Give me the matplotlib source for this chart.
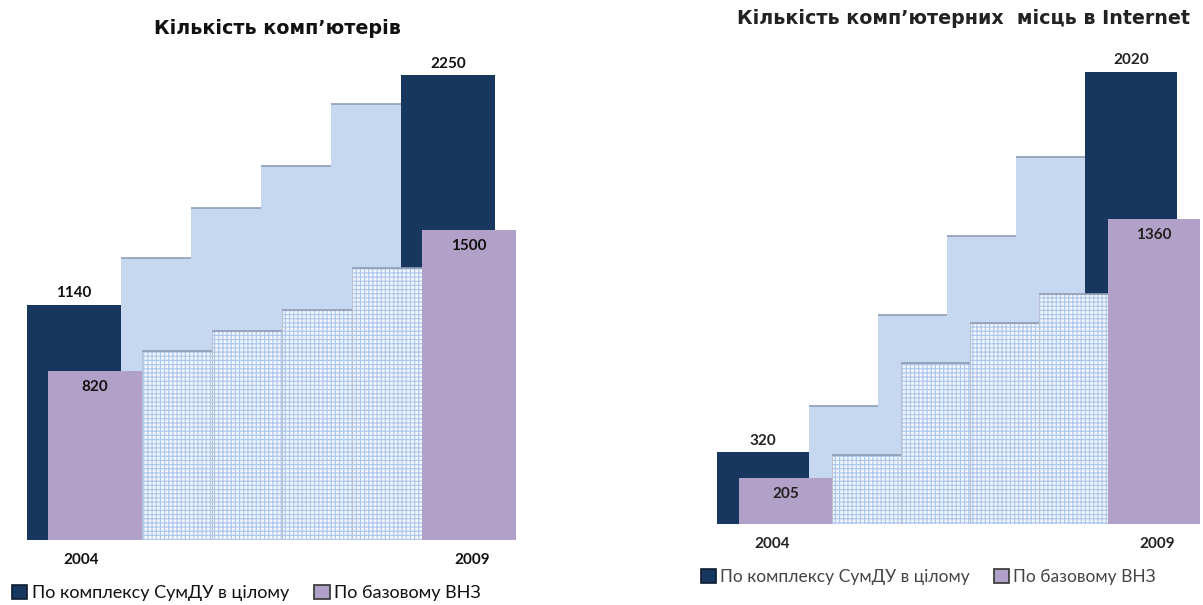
import matplotlib.pyplot as plt
from matplotlib.patches import Patch

# data
years = ['2004', '2005', '2006', '2007', '2008', '2009']
pc_complex = [1140, 1366, 1608, 1811, 2111, 2250]
pc_base = [820, 915, 1010, 1114, 1315, 1500]
net_complex = [320, 527, 933, 1286, 1638, 2020]
net_base = [205, 308, 719, 897, 1027, 1360]

titles = ['Кількість комп’ютерів', 'Кількість комп’ютерних  місць в Internet']
legend_labels = ['По комплексу СумДУ в цілому', 'По базовому ВНЗ']

DARK = '#17375e'
LIGHT = '#c6d8f0'
PURPLE = '#b1a0c7'
DOTS_FACE = '#f1f5fc'
DOTS_HATCH = '#acc6ec'
STEP_LINE = '#8f9db6'

FIG_W, FIG_H = 1203, 605
plt.rcParams['hatch.linewidth'] = 0.8

fig = plt.figure(figsize=(FIG_W / 100, FIG_H / 100), dpi=100)


def draw_panel(px_left, px_right, base_px, data0_px, unit_px, px_per_val,
               complex_vals, base_vals, offset, text_color):
    ax = fig.add_axes([px_left / FIG_W, (FIG_H - base_px) / FIG_H,
                       (px_right - px_left) / FIG_W, base_px / FIG_H])
    ax.set_xlim((px_left - data0_px) / unit_px, (px_right - data0_px) / unit_px)
    ax.set_ylim(0, base_px / px_per_val)
    ax.axis('off')

    n = len(years)
    width = 1.34
    lefts = [1 - width] + list(range(1, n))
    last = n - 1

    # complex series first, then base series on top
    for i in range(n):
        z = 2 + i * 0.01
        if i in (0, last):
            ax.bar(lefts[i], complex_vals[i], width=width, align='edge',
                   color=DARK, linewidth=0, zorder=z)
        else:
            ax.bar(lefts[i], complex_vals[i], width=width, align='edge',
                   color=LIGHT, linewidth=0, zorder=z)
            ax.hlines(complex_vals[i], lefts[i], lefts[i] + width,
                      color=STEP_LINE, linewidth=1.2, zorder=z)
    for i in range(n):
        x = lefts[i] + offset
        z = 3 + i * 0.01
        if i in (0, last):
            ax.bar(x, base_vals[i], width=width, align='edge',
                   color=PURPLE, linewidth=0, zorder=z)
        else:
            ax.bar(x, base_vals[i], width=width, align='edge',
                   facecolor=DOTS_FACE, hatch='++++', edgecolor=DOTS_HATCH,
                   linewidth=0, zorder=z)
            ax.bar(x, base_vals[i], width=width, align='edge', fill=False,
                   edgecolor='#b7c1d2', linewidth=0.8, zorder=z)
            ax.hlines(base_vals[i], x, x + width, color=STEP_LINE,
                      linewidth=1.2, zorder=z)

    for i, shift in zip((0, last), (-0.2, 0.05)):
        cx = lefts[i] + width / 2
        bx = lefts[i] + offset + width / 2
        ax.annotate(str(complex_vals[i]), (cx, complex_vals[i]), xytext=(0, 3),
                    textcoords='offset points', ha='center', va='bottom',
                    fontsize=11, fontweight='bold', family='Lato', color=text_color,
                    zorder=10)
        ax.annotate(str(base_vals[i]), (bx, base_vals[i]), xytext=(0, -11.5),
                    textcoords='offset points', ha='center', va='center',
                    fontsize=11, fontweight='bold', family='Lato', color=text_color,
                    zorder=10)
        ax.annotate(years[i], (bx + shift, 0), xytext=(0, -14.5),
                    textcoords='offset points', ha='center', va='center',
                    fontsize=11, fontweight='bold', family='Lato', color=text_color,
                    annotation_clip=False)
    return ax


ax1 = draw_panel(0, 600, 540, 51, 70, 0.2065, pc_complex, pc_base, 0.3, '#111111')
ax2 = draw_panel(600, 1203, 524, 740, 69, 0.224, net_complex, net_base, 0.33, '#222222')

fig.text(277 / FIG_W, 1 - 28 / FIG_H, titles[0], ha='center', va='center',
         fontsize=13.8, fontweight='bold', color='#111111')
fig.text(963 / FIG_W, 1 - 19 / FIG_H, titles[1], ha='center', va='center',
         fontsize=13.7, fontweight='bold', color='#222222')

handles = [Patch(facecolor=DARK, edgecolor='#0c1c30', linewidth=1.2),
           Patch(facecolor=PURPLE, edgecolor='#333333', linewidth=1.2)]
for (x, y, col, size) in [(12, 593, '#111111', 13), (701, 577, '#444444', 12.5)]:
    fig.legend(handles, legend_labels, loc='center left',
               bbox_to_anchor=(x / FIG_W, 1 - y / FIG_H), ncol=2, frameon=False,
               borderpad=0, borderaxespad=0, handlelength=0.85, handleheight=0.85,
               handletextpad=0.25, columnspacing=1.4,
               prop={'family': 'Lato', 'size': size}, labelcolor=col)

fig.savefig('out.png', dpi=100)
